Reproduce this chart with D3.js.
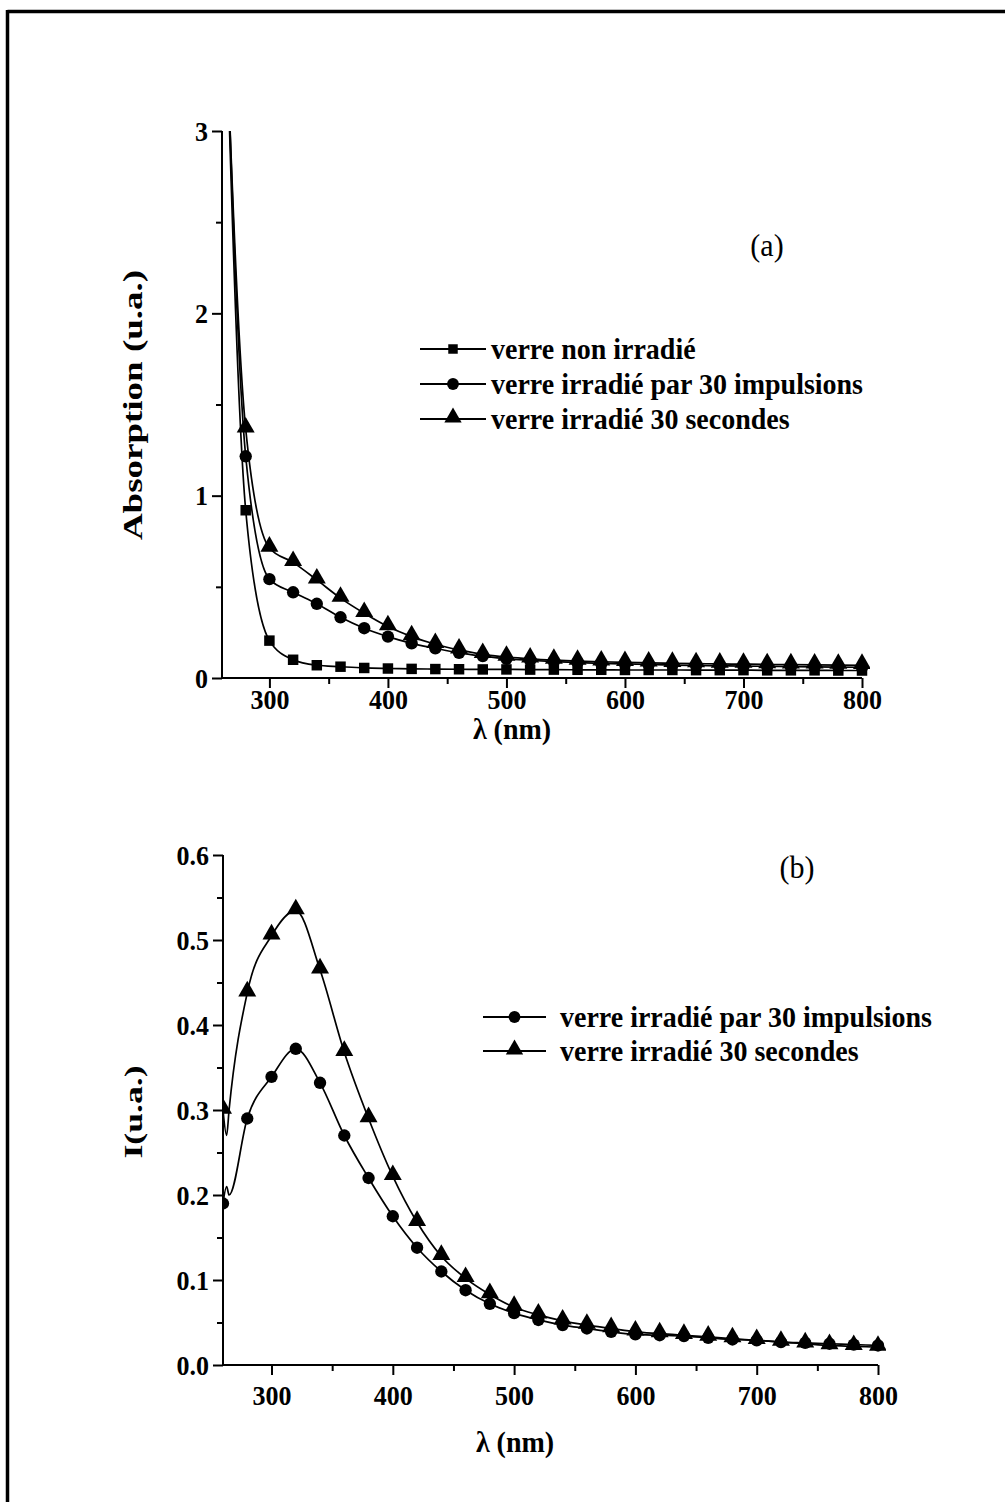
<!DOCTYPE html>
<html><head><meta charset="utf-8">
<script src="https://cdn.jsdelivr.net/npm/d3@7"></script>
<style>body{margin:0;background:#fff}svg{display:block}text{font-family:"Liberation Serif","Times New Roman",serif}</style>
</head><body>
<svg id="c" width="1005" height="1502"></svg>
<script>
// ---- Panel (a) data ----
const lambdaA = [260,280,300,320,340,360,380,400,420,440,460,480,500,520,540,560,580,600,620,640,660,680,700,720,740,760,780,800];
const nonIrr = [4.4,0.92,0.205,0.10,0.07,0.062,0.055,0.052,0.05,0.049,0.048,0.047,0.047,0.046,0.046,0.045,0.045,0.044,0.044,0.044,0.043,0.043,0.043,0.042,0.042,0.042,0.041,0.041];
const irrPulsesA = [4.3,1.216,0.542,0.47,0.407,0.333,0.273,0.227,0.19,0.163,0.138,0.12,0.105,0.097,0.09,0.085,0.08,0.077,0.074,0.071,0.069,0.067,0.065,0.064,0.062,0.061,0.06,0.059];
const irrSecA = [4.2,1.366,0.713,0.634,0.538,0.438,0.355,0.282,0.227,0.185,0.154,0.13,0.115,0.105,0.098,0.093,0.089,0.086,0.083,0.081,0.079,0.077,0.076,0.074,0.073,0.072,0.071,0.07];
const yTicksA = [0,1,2,3];
// ---- Panel (b) data ----
const lambdaB = [260,263,265,280,300,320,340,360,380,400,420,440,460,480,500,520,540,560,580,600,620,640,660,680,700,720,740,760,780,800];
const irrPulsesB = [0.19,0.21,0.20,0.29,0.339,0.372,0.332,0.27,0.22,0.175,0.138,0.11,0.088,0.072,0.061,0.053,0.047,0.043,0.039,0.036,0.035,0.034,0.032,0.030,0.029,0.027,0.026,0.025,0.024,0.023];
const irrSecB = [0.30,0.27,0.30,0.438,0.505,0.5345,0.465,0.368,0.29,0.222,0.168,0.128,0.102,0.083,0.068,0.059,0.052,0.047,0.043,0.039,0.037,0.035,0.033,0.031,0.029,0.027,0.025,0.023,0.022,0.021];
const yTicksB = [0,0.1,0.2,0.3,0.4,0.5,0.6];
const xTicks = [300,400,500,600,700,800];
const legendA = ["verre non irradié","verre irradié par 30 impulsions","verre irradié 30 secondes"];
const legendB = ["verre irradié par 30 impulsions","verre irradié 30 secondes"];

const SY = 1.05, SROT = 1.37;
const svg = d3.select("#c");
// outer frame (top and left)
svg.append("line").attr("x1",7.5).attr("x2",1005).attr("y1",11.5).attr("y2",11.5).attr("stroke","#000").attr("stroke-width",3.5);
svg.append("line").attr("x1",7.5).attr("x2",7.5).attr("y1",10).attr("y2",1502).attr("stroke","#000").attr("stroke-width",3.5);

function txt(g, s, x, y, size, opts){
  opts = opts||{};
  return g.append("text").text(s)
    .attr("transform", opts.rot ? `translate(${x},${y}) rotate(-90) scale(${SROT},1)` : `translate(${x},${y}) scale(1,${SY})`)
    .attr("text-anchor", opts.anchor||"middle").attr("dominant-baseline","central")
    .attr("font-size", size).attr("font-weight", opts.normal?"normal":"bold").attr("fill","#000");
}

const symSize = {square:110, circle:120, triangle:140};
function marker(g, type, x, y, s){
  const sym = type==="square"?d3.symbolSquare:type==="circle"?d3.symbolCircle:d3.symbolTriangle;
  const dy = type==="triangle"? -1.5:0;
  g.append("path").attr("d", d3.symbol().type(sym).size(s||symSize[type])()).attr("transform",`translate(${x},${y+dy})`).attr("fill","#000");
}

function panel(o){
  const x = d3.scaleLinear().domain([260,800]).range([o.x0,o.x1]);
  const y = d3.scaleLinear().domain([0,o.ymax]).range([o.y0,o.y1]);
  const g = svg.append("g");
  const id = "clip"+o.name;
  svg.append("clipPath").attr("id",id).append("rect").attr("x",o.x0).attr("y",o.y1).attr("width",o.x1-o.x0+8).attr("height",o.y0-o.y1+8);
  const dg = g.append("g").attr("clip-path",`url(#${id})`);
  const line = d3.line().x(d=>x(d[0])).y(d=>y(d[1])).curve(d3.curveMonotoneX);
  o.series.forEach(s=>{
    const pts = o.lambda.map((l,i)=>[l,s.v[i]]);
    dg.append("path").attr("d",line(pts)).attr("fill","none").attr("stroke","#000").attr("stroke-width",1.7);
    pts.forEach(p=>{ if(p[0]%20===0) marker(dg,s.type,x(p[0]),y(p[1])); });
  });
  // axes
  const xAxis = d3.axisBottom(x).tickValues(d3.range(300,801,50)).tickSize(0).tickFormat("");
  const gx = g.append("g").attr("transform",`translate(0,${o.y0})`).call(xAxis);
  gx.select(".domain").attr("stroke-width",2).attr("d",`M${o.x0},0H${o.x1}`);
  gx.selectAll(".tick").each(function(d){
    const t=d3.select(this); const major = xTicks.includes(d);
    t.append("line").attr("y2",major?10:6).attr("stroke","#000").attr("stroke-width",2);
    if(major) txt(t, d, 0, o.xlabY-o.y0, 26);
  });
  const minor = d3.range(0,o.ymax+1e-9,o.ystep/2);
  const gy = g.append("g").attr("transform",`translate(${o.x0},0)`).call(d3.axisLeft(y).tickValues(minor).tickSize(0).tickFormat(""));
  gy.select(".domain").attr("stroke-width",2).attr("d",`M0,${o.y1}V${o.y0}`);
  gy.selectAll(".tick").each(function(d){
    const t=d3.select(this); const major = o.yTicks.some(v=>Math.abs(v-d)<1e-9);
    t.append("line").attr("x2",major?-10:-6).attr("stroke","#000").attr("stroke-width",2);
    if(major) txt(t, o.fmt(d), -14, 0, 26, {anchor:"end"});
  });
  // titles
  txt(g, "λ (nm)", o.xtitleX, o.xtitleY, 28);
  txt(g, o.ytitle, 133, o.ytitleY, o.ytitleSize, {rot:true});
  txt(g, o.tag, o.tagX, o.tagY, 30, {normal:true});
  // legend
  o.series.forEach((s,i)=>{
    const ly = o.legY + i*o.legStep;
    g.append("line").attr("x1",o.legX0).attr("x2",o.legX1).attr("y1",ly).attr("y2",ly).attr("stroke","#000").attr("stroke-width",2);
    marker(g,s.type,(o.legX0+o.legX1)/2,ly, s.type==="square"?90:s.type==="circle"?110:130);
    txt(g, o.legend[i], o.legTX, ly, 28, {anchor:"start"});
  });
}

panel({name:"a", x0:222, x1:862, y0:678, y1:131, ymax:3, ystep:1, yTicks:yTicksA, fmt:d=>d3.format("d")(d),
  lambda:lambdaA, series:[{v:nonIrr,type:"square"},{v:irrPulsesA,type:"circle"},{v:irrSecA,type:"triangle"}],
  xlabY:700, xtitleX:512, xtitleY:729, ytitle:"Absorption (u.a.)", ytitleY:405, ytitleSize:27, tag:"(a)", tagX:767, tagY:246,
  legend:legendA, legX0:420, legX1:486, legY:349, legStep:35, legTX:491});
panel({name:"b", x0:223, x1:878, y0:1365, y1:855, ymax:0.6, ystep:0.1, yTicks:yTicksB, fmt:d=>d3.format(".1f")(d),
  lambda:lambdaB, series:[{v:irrPulsesB,type:"circle"},{v:irrSecB,type:"triangle"}],
  xlabY:1396, xtitleX:515, xtitleY:1442, ytitle:"I(u.a.)", ytitleY:1112, ytitleSize:26, tag:"(b)", tagX:797, tagY:868,
  legend:legendB, legX0:483, legX1:546, legY:1017, legStep:34, legTX:560});
</script>
</body></html>
